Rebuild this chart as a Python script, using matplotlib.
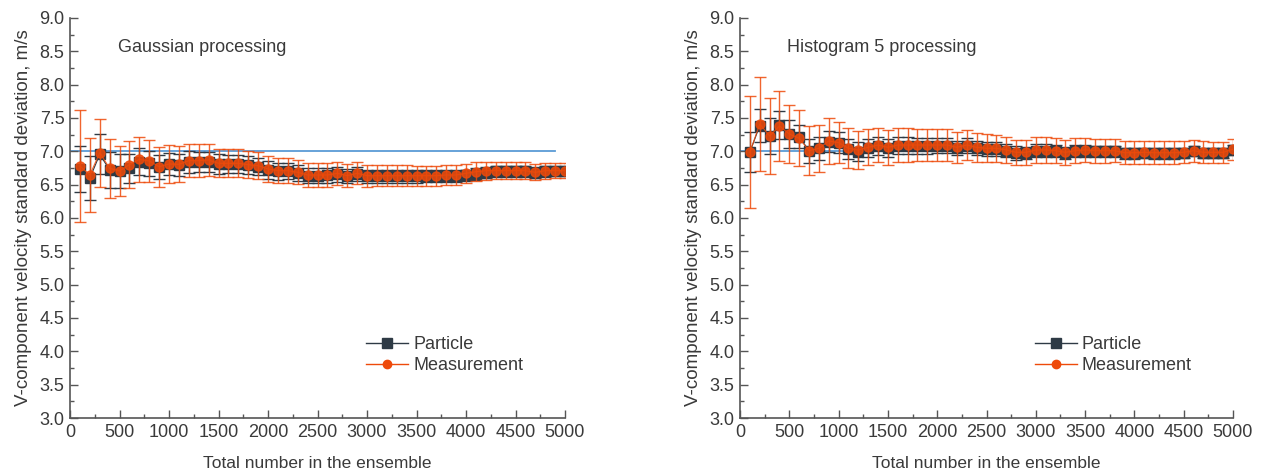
import numpy as np
import matplotlib
matplotlib.use('Agg')
import matplotlib.pyplot as plt
from matplotlib.lines import Line2D
from matplotlib.ticker import MultipleLocator, FormatStrFormatter

plt.rcParams['font.family'] = ['Liberation Sans', 'DejaVu Sans']

# ensemble sizes
n_total = np.arange(100, 5001, 100)

# Gaussian processing
gauss_meas = [6.78, 6.645, 6.98, 6.745, 6.705, 6.80, 6.88, 6.855, 6.77, 6.81,
              6.805, 6.86, 6.86, 6.87, 6.82, 6.82, 6.82, 6.80, 6.785, 6.735,
              6.71, 6.71, 6.685, 6.645, 6.645, 6.645, 6.67, 6.635, 6.67, 6.635,
              6.635, 6.635, 6.635, 6.635, 6.635, 6.635, 6.635, 6.645, 6.645, 6.67,
              6.695, 6.71, 6.71, 6.71, 6.71, 6.71, 6.685, 6.71, 6.71, 6.71]
gauss_meas_err = [0.84, 0.56, 0.51, 0.44, 0.38, 0.35, 0.335, 0.32, 0.30, 0.285,
                  0.27, 0.245, 0.245, 0.24, 0.21, 0.21, 0.21, 0.205, 0.20, 0.19,
                  0.19, 0.185, 0.18, 0.18, 0.175, 0.175, 0.17, 0.17, 0.165, 0.165,
                  0.16, 0.16, 0.155, 0.155, 0.15, 0.15, 0.15, 0.145, 0.145, 0.14,
                  0.14, 0.135, 0.13, 0.13, 0.125, 0.125, 0.12, 0.12, 0.115, 0.115]
gauss_part = [6.735, 6.595, 6.955, 6.72, 6.705, 6.745, 6.845, 6.82, 6.76, 6.81,
              6.80, 6.84, 6.84, 6.845, 6.81, 6.81, 6.81, 6.79, 6.77, 6.72,
              6.70, 6.70, 6.67, 6.635, 6.635, 6.64, 6.655, 6.625, 6.66, 6.625,
              6.625, 6.625, 6.625, 6.625, 6.625, 6.625, 6.625, 6.635, 6.635, 6.64,
              6.66, 6.68, 6.70, 6.70, 6.70, 6.70, 6.68, 6.70, 6.70, 6.70]
gauss_part_err = [0.34, 0.33, 0.30, 0.27, 0.25, 0.22, 0.20, 0.19, 0.18, 0.17,
                  0.165, 0.16, 0.155, 0.15, 0.145, 0.14, 0.14, 0.135, 0.13, 0.13,
                  0.125, 0.12, 0.12, 0.115, 0.115, 0.11, 0.11, 0.105, 0.105, 0.10,
                  0.10, 0.10, 0.095, 0.095, 0.095, 0.09, 0.09, 0.09, 0.09, 0.085,
                  0.085, 0.085, 0.085, 0.08, 0.08, 0.08, 0.08, 0.08, 0.075, 0.075]

# Histogram 5 processing
hist_meas = [6.985, 7.41, 7.23, 7.38, 7.26, 7.195, 7.01, 7.045, 7.155, 7.13,
             7.045, 7.02, 7.06, 7.095, 7.06, 7.095, 7.095, 7.095, 7.095, 7.095,
             7.095, 7.06, 7.095, 7.06, 7.045, 7.045, 7.02, 6.985, 6.985, 7.02,
             7.02, 7.01, 6.985, 7.01, 7.02, 7.01, 7.01, 7.01, 6.98, 6.98,
             6.985, 6.98, 6.98, 6.98, 6.985, 7.01, 6.985, 6.985, 6.985, 7.03]
hist_meas_err = [0.84, 0.70, 0.575, 0.53, 0.44, 0.42, 0.365, 0.35, 0.34, 0.31,
                 0.30, 0.28, 0.27, 0.26, 0.26, 0.25, 0.25, 0.245, 0.24, 0.24,
                 0.235, 0.23, 0.22, 0.215, 0.21, 0.205, 0.20, 0.19, 0.19, 0.19,
                 0.19, 0.19, 0.185, 0.185, 0.18, 0.18, 0.18, 0.175, 0.175, 0.175,
                 0.17, 0.17, 0.17, 0.17, 0.165, 0.165, 0.165, 0.16, 0.16, 0.16]
hist_part = [6.99, 7.385, 7.23, 7.395, 7.26, 7.22, 7.01, 7.045, 7.145, 7.13,
             7.04, 6.995, 7.05, 7.085, 7.05, 7.085, 7.085, 7.085, 7.085, 7.085,
             7.085, 7.05, 7.085, 7.05, 7.035, 7.035, 7.01, 6.975, 6.975, 7.01,
             7.01, 7.0, 6.975, 7.0, 7.01, 7.0, 7.0, 7.0, 6.97, 6.97,
             6.975, 6.97, 6.97, 6.97, 6.975, 7.0, 6.975, 6.975, 6.975, 7.02]
hist_part_err = [0.30, 0.25, 0.27, 0.21, 0.21, 0.17, 0.18, 0.17, 0.16, 0.155,
                 0.15, 0.145, 0.14, 0.135, 0.13, 0.13, 0.125, 0.12, 0.12, 0.115,
                 0.115, 0.11, 0.11, 0.105, 0.105, 0.10, 0.10, 0.10, 0.095, 0.095,
                 0.095, 0.09, 0.09, 0.09, 0.09, 0.085, 0.085, 0.085, 0.085, 0.085,
                 0.08, 0.08, 0.08, 0.08, 0.08, 0.075, 0.075, 0.075, 0.075, 0.075]

ref_x = [0, 4900]
ref_y = [7.0, 7.0]

panels = [('Gaussian processing', gauss_part, gauss_part_err, gauss_meas, gauss_meas_err),
          ('Histogram 5 processing', hist_part, hist_part_err, hist_meas, hist_meas_err)]

DARK = '#2e3a45'
ORANGE = '#ee4a0a'
GREY = '#555555'
TXT = '#3a3a3a'

fig = plt.figure(figsize=(12.62, 4.72), dpi=100)
ax_pos = [[0.0555, 0.1144, 0.3922, 0.8475],
          [0.5864, 0.1144, 0.3906, 0.8475]]

for pos, (title, part, part_err, meas, meas_err) in zip(ax_pos, panels):
    ax = fig.add_axes(pos)
    ax.plot(ref_x, ref_y, color='#5b9bd5', lw=1.3, zorder=1)
    ax.errorbar(n_total, part, yerr=part_err, color=DARK, ecolor=DARK, lw=0.8,
                elinewidth=1.0, capsize=4, capthick=1.0, marker='s', ms=7.5,
                mec=DARK, mfc=DARK, zorder=2)
    ax.errorbar(n_total, meas, yerr=meas_err, color=ORANGE, ecolor=ORANGE, lw=0.8,
                elinewidth=1.0, capsize=4, capthick=1.0, marker='o', ms=6.5,
                mec=ORANGE, mfc=ORANGE, zorder=3, alpha=0.85)

    ax.set_xlim(0, 5000)
    ax.set_ylim(3.0, 9.0)
    ax.xaxis.set_major_locator(MultipleLocator(500))
    ax.xaxis.set_minor_locator(MultipleLocator(250))
    ax.yaxis.set_major_locator(MultipleLocator(0.5))
    ax.yaxis.set_minor_locator(MultipleLocator(0.25))
    ax.yaxis.set_major_formatter(FormatStrFormatter('%.1f'))
    ax.tick_params(which='both', direction='in', colors=GREY, labelcolor=TXT,
                   labelsize=13)
    ax.tick_params(which='major', length=6, width=1, pad=4)
    ax.tick_params(which='minor', length=3, width=1)
    for side in ['top', 'right']:
        ax.spines[side].set_visible(False)
    for side in ['left', 'bottom']:
        ax.spines[side].set_color(GREY)
        ax.spines[side].set_linewidth(1.2)

    ax.set_xlabel('Total number in the ensemble', fontsize=12.5, color=TXT, labelpad=11)
    ax.set_ylabel('V-component velocity standard deviation, m/s', fontsize=13.5,
                  color=TXT, labelpad=5)
    ax.text(480, 8.55, title, fontsize=13, color=TXT, va='center')

    handles = [Line2D([], [], color=DARK, lw=1.0, marker='s', ms=7, label='Particle'),
               Line2D([], [], color=ORANGE, lw=1.0, marker='o', ms=6, label='Measurement')]
    leg = ax.legend(handles=handles, loc='upper left', bbox_to_anchor=(0.566, 0.245),
                    frameon=False, fontsize=13, handlelength=2.3, handletextpad=0.28,
                    labelspacing=0.2)
    for t in leg.get_texts():
        t.set_color(TXT)

fig.savefig('out.png', dpi=100)
